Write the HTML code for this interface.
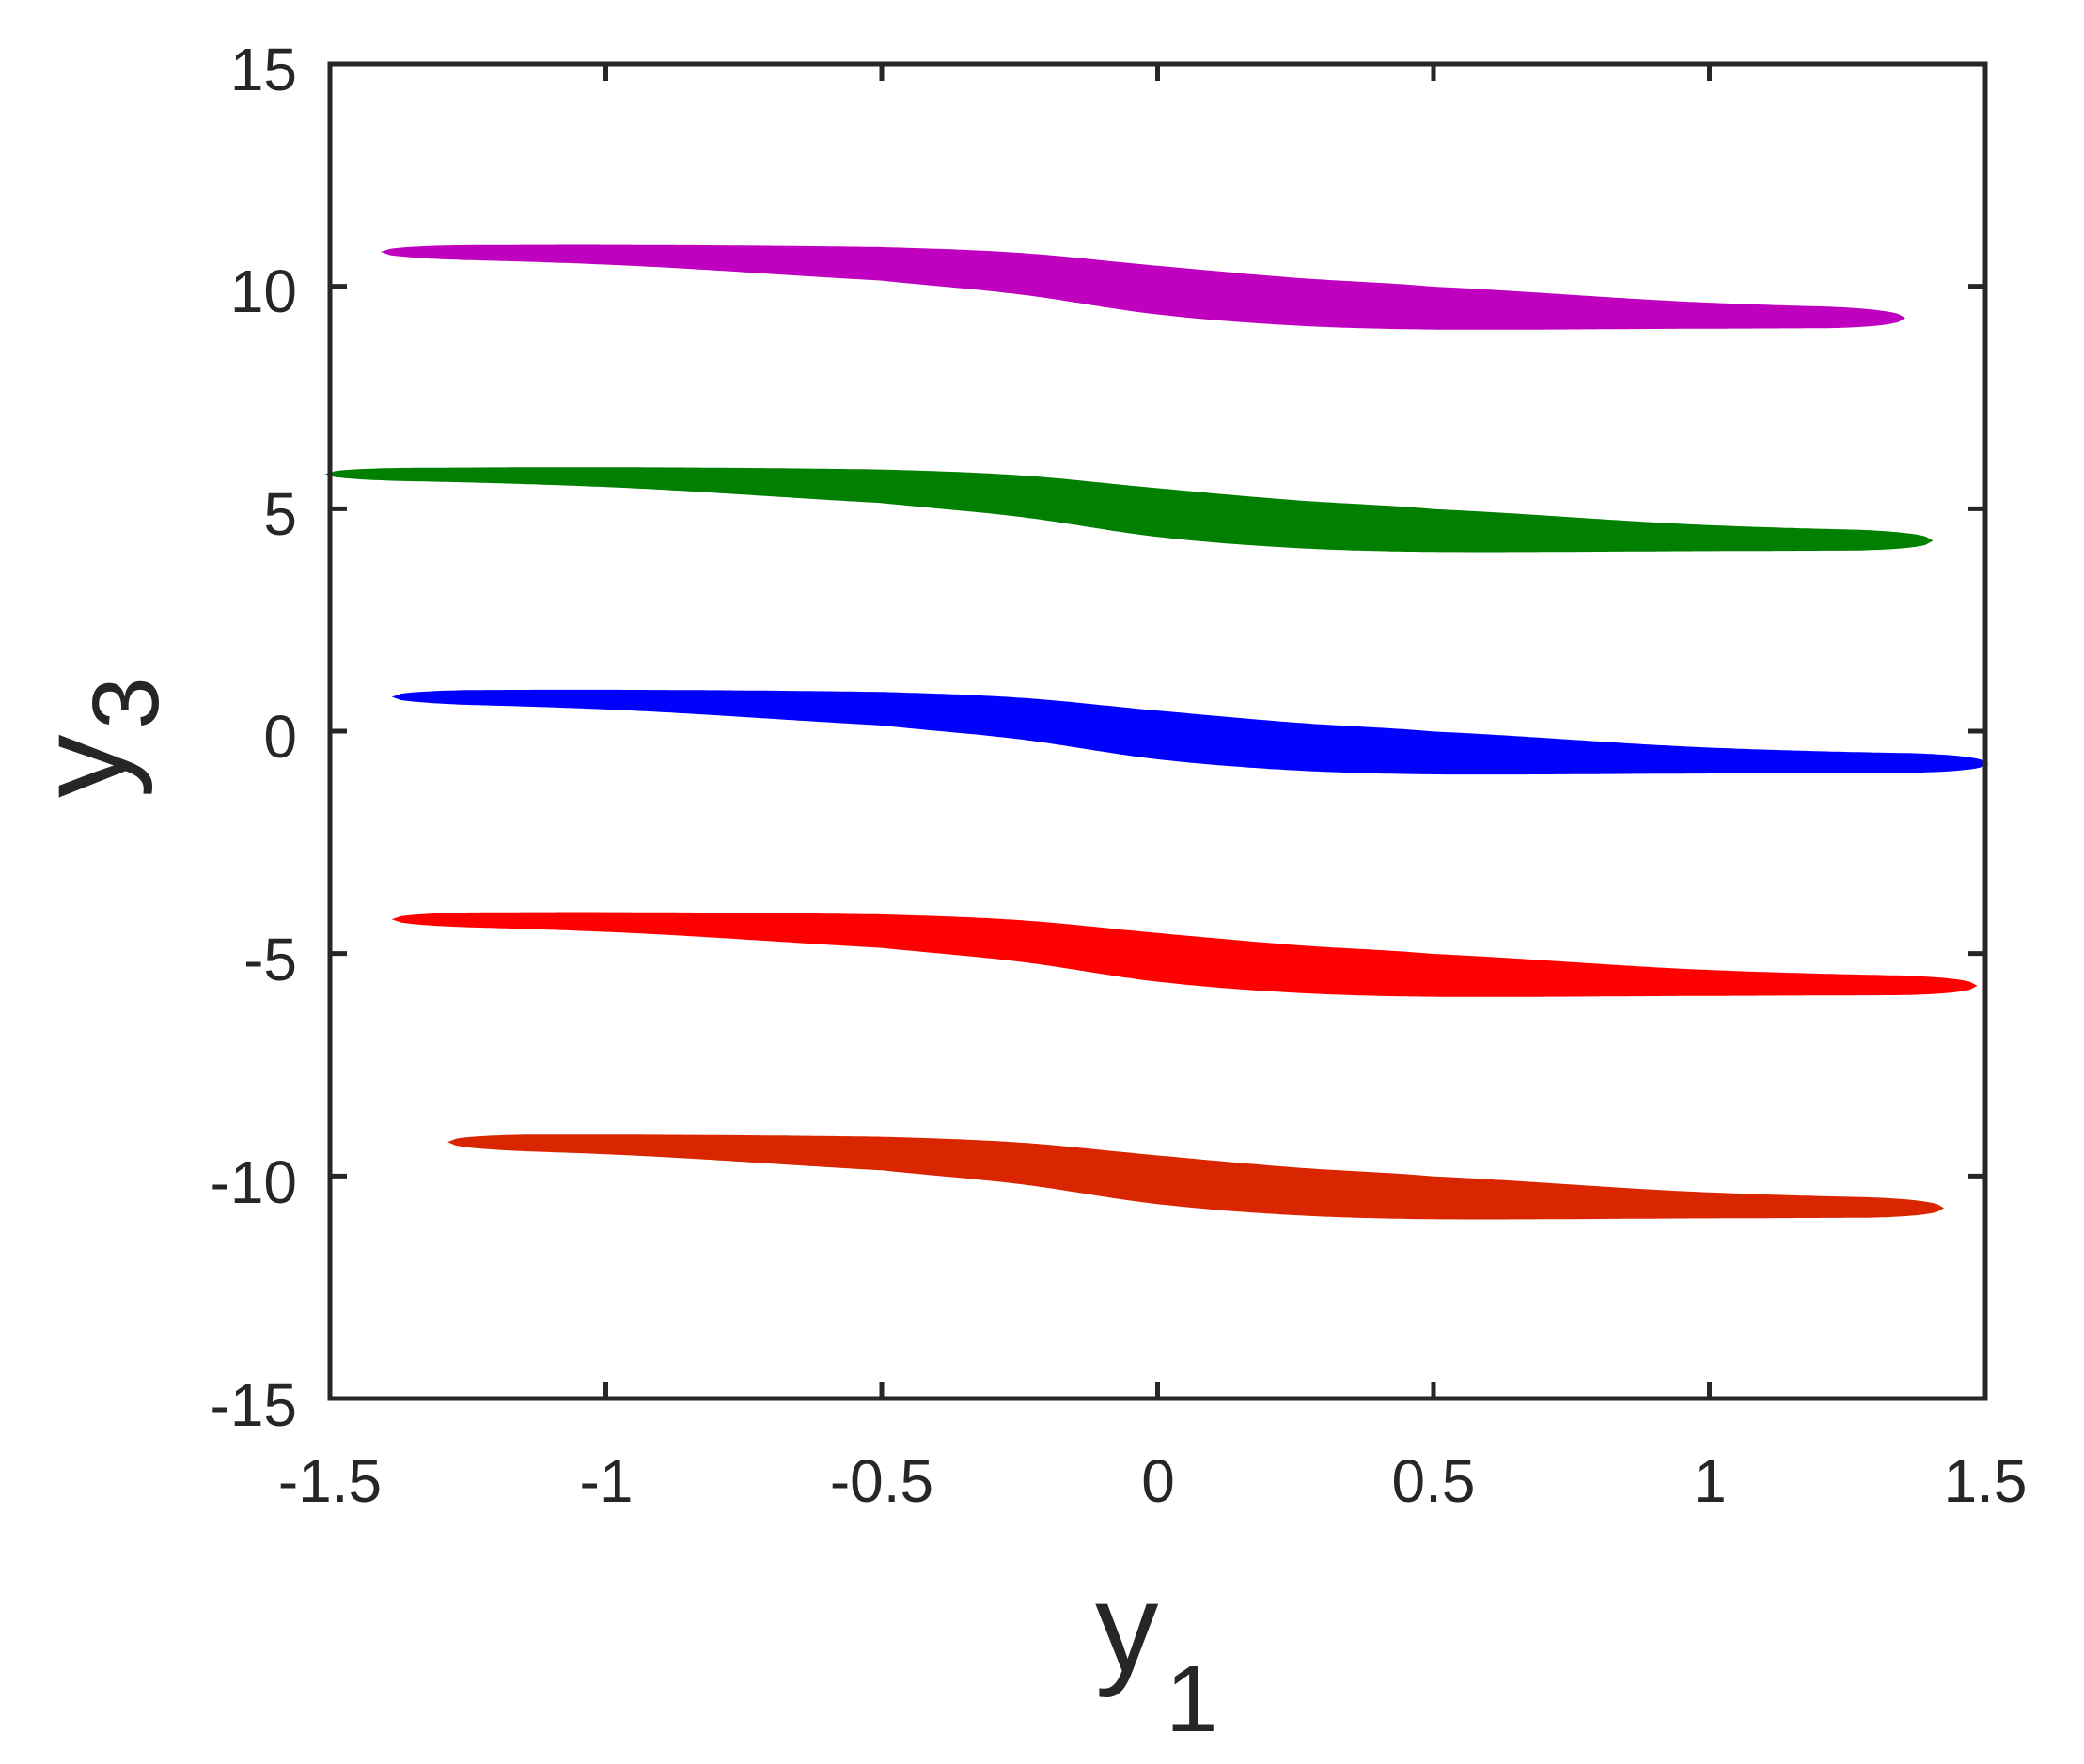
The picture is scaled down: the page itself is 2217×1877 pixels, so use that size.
<!DOCTYPE html>
<html><head><meta charset="utf-8"><style>
html,body{margin:0;padding:0;background:#fff;}
svg{display:block;}
text{font-family:"Liberation Sans",Arial,sans-serif;fill:#262626;}
</style></head><body>
<svg id="s" width="2217" height="1877" viewBox="0 0 2217 1877" xmlns="http://www.w3.org/2000/svg">
<g id="series"></g>
<rect x="351" y="68" width="1761" height="1420" fill="none" stroke="#262626" stroke-width="5"/>
<g stroke="#262626" stroke-width="5" id="ticks"></g>
<g font-size="64" text-anchor="end">
<text x="316" y="96">15</text>
<text x="316" y="332">10</text>
<text x="316" y="569">5</text>
<text x="316" y="806">0</text>
<text x="316" y="1043">-5</text>
<text x="316" y="1280">-10</text>
<text x="316" y="1517">-15</text>
</g>
<g font-size="64" text-anchor="middle">
<text x="351" y="1598">-1.5</text>
<text x="645" y="1598">-1</text>
<text x="938" y="1598">-0.5</text>
<text x="1232" y="1598">0</text>
<text x="1525" y="1598">0.5</text>
<text x="1819" y="1598">1</text>
<text x="2112" y="1598">1.5</text>
</g>
<text x="1165" y="1778" font-size="135">y</text>
<text x="1240" y="1842" font-size="100">1</text>
<g transform="translate(134,0) rotate(-90)">
<text x="-849" y="0" font-size="135">y</text>
<text x="-776" y="34" font-size="100">3</text>
</g>
</svg>
<script>
var L=351,R=2112,T=68,B=1488;
function X(v){return L+(v+1.5)/3*(R-L);}
function Y(v){return T+(15-v)/30*(B-T);}
var tk=document.getElementById('ticks'),h='';
for(var i=-1;i<=1;i+=0.5){var x=X(i);h+='<line x1="'+x+'" y1="'+B+'" x2="'+x+'" y2="'+(B-18)+'"/><line x1="'+x+'" y1="'+T+'" x2="'+x+'" y2="'+(T+18)+'"/>';}
for(var j=-10;j<=10;j+=5){var y=Y(j);h+='<line x1="'+L+'" y1="'+y+'" x2="'+(L+18)+'" y2="'+y+'"/><line x1="'+R+'" y1="'+y+'" x2="'+(R-18)+'" y2="'+y+'"/>';}
tk.innerHTML=h;
var PX=[-1.5,-1,-0.5,-0.25,0,0.25,0.5,1,1.5];
var TP=[0.88,0.9,0.85,0.72,0.43,0.16,-0.04,-0.4,-0.55];
var BT=[0.68,0.52,0.16,-0.15,-0.6,-0.85,-0.94,-0.92,-0.9];
function interp(A,x){
 for(var i=0;i<PX.length-1;i++){ if(x<=PX[i+1]){
  var t=(x-PX[i])/(PX[i+1]-PX[i]);
  var p0=A[Math.max(0,i-1)],p1=A[i],p2=A[i+1],p3=A[Math.min(A.length-1,i+2)];
  return 0.5*((2*p1)+(-p0+p2)*t+(2*p0-5*p1+4*p2-p3)*t*t+(-p0+3*p1-3*p2+p3)*t*t*t);
 }}
 return A[A.length-1];
}
var S=[
 {c:'#BF00BF',x0:-1.4,x1:1.35,m:10.0},
 {c:'#007F00',x0:-1.5,x1:1.4,m:5.0},
 {c:'#0000FF',x0:-1.38,x1:1.5,m:0.0},
 {c:'#FF0000',x0:-1.38,x1:1.48,m:-5.0},
 {c:'#D92600',x0:-1.28,x1:1.42,m:-10.0}
];
var g='';
S.forEach(function(s){
 var N=300,up=[],lo=[],E=0.15;
 for(var k=0;k<=N;k++){
  var x=s.x0+(s.x1-s.x0)*k/N;
  var tp=interp(TP,x),bt=interp(BT,x);
  var d=Math.min(x-s.x0,s.x1-x),f=1;
  if(d<E){var u=d/E;f=Math.sqrt(Math.max(0,1-(1-u)*(1-u)));}
  var mid=(tp+bt)/2,hw=(tp-bt)/2*f;
  up.push(X(x).toFixed(1)+','+Y(s.m+mid+hw).toFixed(1));
  lo.unshift(X(x).toFixed(1)+','+Y(s.m+mid-hw).toFixed(1));
 }
 g+='<path d="M'+up.join(' L')+' L'+lo.join(' L')+'Z" fill="'+s.c+'" stroke="'+s.c+'" stroke-width="3"/>';
});
document.getElementById('series').innerHTML=g;
</script>
</body></html>
